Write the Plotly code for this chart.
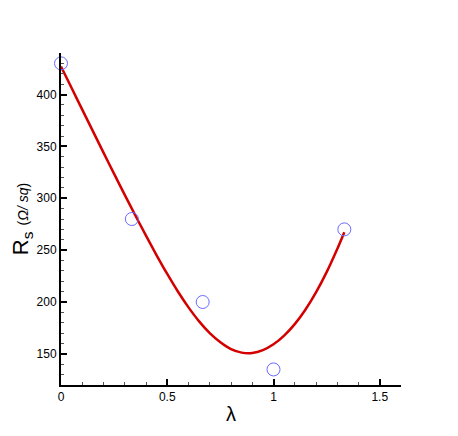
import plotly.graph_objects as go

# Measured data points
lam_pts = [0.0, 0.3333, 0.6667, 1.0, 1.3333]
rs_pts = [430, 280, 200, 135, 270]

# Fitted curve
lam_fit = [0.0, 0.05, 0.1, 0.15, 0.2, 0.25, 0.3, 0.35, 0.4, 0.45, 0.5, 0.55, 0.6, 0.65,
           0.7, 0.75, 0.8, 0.85, 0.9, 0.95, 1.0, 1.05, 1.1, 1.15, 1.2, 1.25, 1.3, 1.3333]
rs_fit = [427, 406.2, 385.4, 364.7, 344.0, 323.5, 303.3, 283.4, 263.9, 245.0, 227.0, 210.1, 194.8, 181.3,
          170.0, 161.2, 154.6, 151.2, 150.85, 153.6, 159.2, 167.6, 178.7, 192.6, 209.3, 228.8, 251.1, 267.3]

x_tickvals = [0, 0.5, 1, 1.5]
x_ticktext = ["0", "0.5", "1", "1.5"]
y_tickvals = [150, 200, 250, 300, 350, 400]

fig = go.Figure()
fig.add_trace(go.Scatter(
    x=lam_fit, y=rs_fit, mode="lines", line=dict(color="#d40000", width=2.5, shape="spline", smoothing=0.8),
    cliponaxis=False, showlegend=False, hoverinfo="skip"))
fig.add_trace(go.Scatter(
    x=lam_pts, y=rs_pts, mode="markers",
    marker=dict(symbol="circle-open", size=13, color="#6a6aff", line=dict(width=1)),
    cliponaxis=False, showlegend=False))

axis_common = dict(
    showline=True, linecolor="black", linewidth=2, showgrid=False, zeroline=False,
    ticks="inside", ticklen=6, tickwidth=2, tickcolor="black", automargin=False,
    tickfont=dict(family="Liberation Sans, Arial, sans-serif", size=12, color="black"),
)

fig.update_layout(
    width=458, height=436,
    margin=dict(l=53, r=65, t=45, b=59),
    paper_bgcolor="white", plot_bgcolor="white",
    xaxis=dict(
        range=[0, 1.6], tickvals=x_tickvals, ticktext=x_ticktext,
        minor=dict(ticks="inside", ticklen=3, tickwidth=1, tickcolor="#555555", dtick=0.1, tick0=0),
        title=dict(text="λ", font=dict(family="Liberation Sans, Arial, sans-serif", size=20, color="black"), standoff=4),
        **axis_common),
    yaxis=dict(
        range=[120, 440], tickvals=y_tickvals,
        minor=dict(ticks="inside", ticklen=3, tickwidth=1, tickcolor="#555555", dtick=10, tick0=0),
        title=dict(text='R<sub>s</sub> <span style="font-size:14px">(<i>Ω/ sq</i>)</span>',
                   font=dict(family="Liberation Sans, Arial, sans-serif", size=22, color="black"), standoff=8),
        **axis_common),
)

fig.write_html("out.html")
